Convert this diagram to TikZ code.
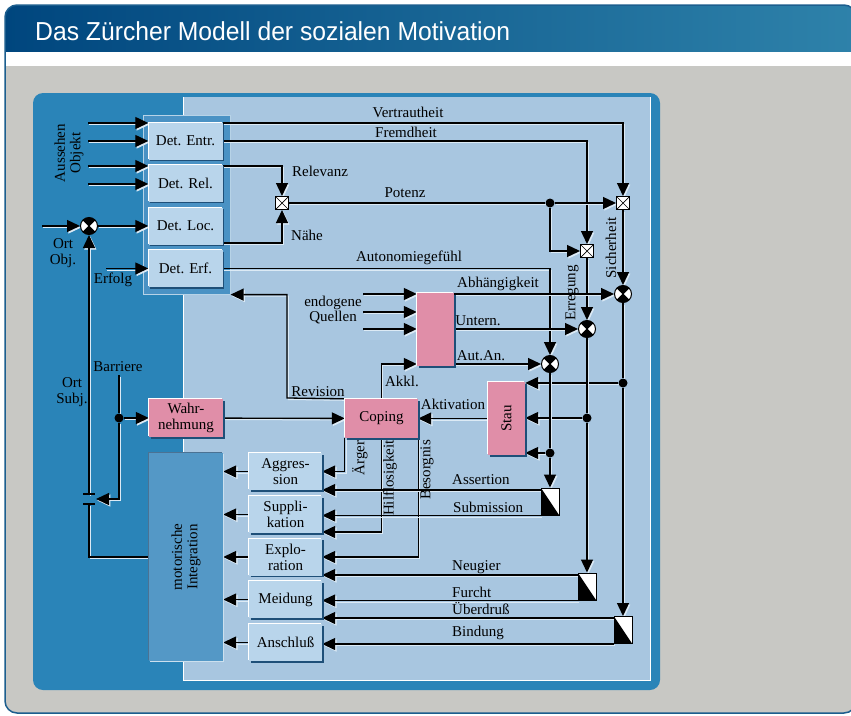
\documentclass[tikz,border=0pt]{standalone}
\usepackage{fontspec}
\setmainfont{Liberation Serif}
\newfontfamily\titlefont{Liberation Sans}
\usetikzlibrary{arrows.meta,shadows,calc}
\definecolor{bggray}{HTML}{C8C8C4}
\definecolor{navyA}{HTML}{00467E}
\definecolor{navyB}{HTML}{2E82AA}
\definecolor{framecol}{HTML}{1C5E8E}
\definecolor{panelblue}{HTML}{2A84B8}
\definecolor{lightpanel}{HTML}{A8C6E0}
\definecolor{medblue}{HTML}{4A92C4}
\definecolor{motblue}{HTML}{5498C6}
\definecolor{boxfill}{HTML}{B9D5EB}
\definecolor{pinkfill}{HTML}{E08EA8}
\definecolor{shadowcol}{HTML}{1E4F78}
\definecolor{lineshadow}{HTML}{DCEAF5}
\pgfdeclarelayer{back}
\pgfdeclarelayer{lines}
\pgfsetlayers{back,lines,main}
\tikzset{
  lab/.style={font=\fontsize{15}{15.5}\selectfont, inner sep=0pt, text=black},
  boxbase/.style={rectangle, inner sep=0pt, font=\fontsize{15}{16}\selectfont, align=center,
     general shadow={shadow xshift=-1pt, shadow yshift=1pt, fill=white},
     general shadow={shadow xshift=1.5pt, shadow yshift=-1.5pt, fill=shadowcol}},
  lbox/.style={boxbase, fill=boxfill, minimum width=74pt, minimum height=37pt},
  pbox/.style={boxbase, fill=pinkfill},
  ln/.style={line width=1.3pt, draw=black, preaction={draw=lineshadow, line width=1pt, transform canvas={shift={(1.3pt,-1.5pt)}}}},
  arr/.style={ln, -{Triangle[length=13pt,width=12pt]}},
  mult/.style={circle, draw=black, line width=1pt, fill=white, minimum size=17pt, inner sep=0pt,
    path picture={
      \fill[black] (path picture bounding box.center) -- (path picture bounding box.north west) -- (path picture bounding box.north east) -- cycle;
      \fill[black] (path picture bounding box.center) -- (path picture bounding box.south west) -- (path picture bounding box.south east) -- cycle;
      \draw[black, line width=0.8pt] (path picture bounding box.north west) -- (path picture bounding box.south east)
        (path picture bounding box.north east) -- (path picture bounding box.south west);}},
  sqx/.style={rectangle, draw=black, line width=1pt, fill=white, minimum size=13pt, inner sep=0pt,
    path picture={\draw[black, line width=0.7pt] (path picture bounding box.north west) -- (path picture bounding box.south east)
        (path picture bounding box.north east) -- (path picture bounding box.south west);}},
  splitbox/.style={rectangle, draw=black, line width=1pt, fill=white, minimum width=18pt, minimum height=27pt, inner sep=0pt,
    path picture={\fill[black] (path picture bounding box.north west) -- (path picture bounding box.south west) -- (path picture bounding box.south east) -- cycle;}},
  dotnode/.style={circle, fill=black, minimum size=9pt, inner sep=0pt},
}
\begin{document}
\begin{tikzpicture}[x=1pt,y=-1pt]
\useasboundingbox (0,0) rectangle (851,715);
\clip (0,0) rectangle (851,715);
\begin{pgfonlayer}{back}
  \fill[white] (0,0) rectangle (851,715);
  \begin{scope}
    \clip[rounded corners=12pt] (5,5) rectangle (856,713);
    \fill[bggray] (5,5) rectangle (856,713);
    \shade[left color=navyA, right color=navyB] (5,5) rectangle (856,52);
    \fill[white] (5,52) rectangle (856,66);
  \end{scope}
  \draw[framecol, line width=1.5pt, rounded corners=12pt] (5,5) rectangle (856,713);
  % panels
  \fill[panelblue, rounded corners=10pt] (33,93) rectangle (660,690);
  \fill[lightpanel] (183,97) rectangle (650,680);
  \draw[white, line width=1pt] (183,97) -- (183,680) -- (650,680) -- (650,97);
  \node[fill=medblue, draw=white!60!medblue, line width=0.6pt, minimum width=87pt, minimum height=179pt, inner sep=0pt, anchor=north west] (detgrp) at (143,115) {};
\end{pgfonlayer}

\node[anchor=west, text=white, inner sep=0pt, font=\titlefont\fontsize{26}{26}\selectfont] (title) at (35,31) {\scalebox{0.95}[1]{Das Zürcher Modell der sozialen Motivation}};

% boxes
\node[lbox] (dentr) at (185.5,141) {Det. Entr.};
\node[lbox] (drel) at (185.5,183) {Det. Rel.};
\node[lbox] (dloc) at (185.5,226) {Det. Loc.};
\node[lbox] (derf) at (185.5,268.5) {Det. Erf.};
\node[pbox, minimum width=74pt, minimum height=38pt] (wahr) at (186,418) {Wahr-\\nehmung};
\node[rectangle, fill=motblue, inner sep=0pt, minimum width=74pt, minimum height=208pt,
  general shadow={shadow xshift=-1pt, shadow yshift=1pt, fill=shadowcol!80},
  general shadow={shadow xshift=1.2pt, shadow yshift=-1.2pt, fill=white!70!motblue}] (motint) at (186,557) {};
\node[lab, rotate=90, align=center] at (motint.center) {motorische\\Integration};
\node[pbox, minimum width=73pt, minimum height=39pt] (coping) at (381.5,418.5) {Coping};
\node[pbox, minimum width=37pt, minimum height=73pt] (quellen) at (435.5,329.5) {};
\node[pbox, minimum width=37pt, minimum height=73pt] (stau) at (506.5,418.5) {};
\node[lab, rotate=90] at (stau.center) {Stau};

\node[lbox, minimum width=73pt] (aggr) at (285.5,471.5) {Aggres-\\sion};
\node[lbox, minimum width=73pt] (supp) at (285.5,514.5) {Suppli-\\kation};
\node[lbox, minimum width=73pt] (expl) at (285.5,557) {Explo-\\ration};
\node[lbox, minimum width=73pt] (meid) at (285.5,599.5) {Meidung};
\node[lbox, minimum width=73pt] (ansch) at (285.5,642.5) {Anschluß};

% operators
\node[sqx] (sqRN) at (282,203) {};
\node[sqx] (sqF) at (587,251) {};
\node[sqx] (sqV) at (623,203) {};
\node[mult] (cA) at (623,294) {};
\node[mult] (cU) at (587,329) {};
\node[mult] (cAut) at (550,364) {};
\node[mult] (mOO) at (89,226) {};
\node[dotnode] (dPot) at (550,203) {};
\node[dotnode] (dS1) at (623,383) {};
\node[dotnode] (dS2) at (587,418) {};
\node[dotnode] (dS3) at (550,453) {};
\node[dotnode] (dBar) at (119,418) {};
\node[splitbox] (spAS) at (550,501.5) {};
\node[splitbox] (spNF) at (587,586.5) {};
\node[splitbox] (spUB) at (623,630) {};

% free ends
\coordinate (inA1) at (88,123);
\coordinate (inA2) at (88,141);
\coordinate (inA3) at (88,166);
\coordinate (inA4) at (88,184);
\coordinate (inOrt) at (42,226);
\coordinate (inErf) at (106,268.5);
\coordinate (barTop) at (119,375);
\coordinate (capTop) at (89,494);
\coordinate (capBot) at (89,504);
\coordinate (capArr) at (96,499);
\coordinate (inQ1) at (363,294);
\coordinate (inQ2) at (363,312);
\coordinate (inQ3) at (363,329);
\coordinate (revC) at (287,398);

\begin{pgfonlayer}{lines}
  % inputs to Det boxes
  \draw[arr] (inA1) -- (dentr.west |- inA1);
  \draw[arr] (inA2) -- (dentr.west |- inA2);
  \draw[arr] (inA3) -- (drel.west |- inA3);
  \draw[arr] (inA4) -- (drel.west |- inA4);
  \draw[arr] (inOrt) -- (mOO);
  \draw[arr] (mOO) -- (dloc);
  \draw[arr] (capTop) -- (mOO);
  \draw[ln] (motint.west) -- (motint.west -| capBot) -- (capBot);
  \draw[line width=1.3pt] (83,494) -- (95,494) (83,504) -- (95,504);
  \draw[arr] (inErf) -- (derf.west |- inErf);
  % Barriere
  \draw[ln] (barTop) -- (dBar);
  \draw[arr] (dBar) -- (dBar |- capArr) -- (capArr);
  \draw[arr] (dBar) -- (wahr);
  % Det outputs
  \draw[arr] (dentr.east |- 0,123) -- (sqV |- 0,123) -- (sqV);
  \draw[arr] (dentr.east) -- (dentr.east -| sqF) -- (sqF);
  \draw[arr] (drel.east |- 0,166) -- (sqRN |- 0,166) -- (sqRN);
  \draw[arr] (dloc.east |- 0,243) -- (sqRN |- 0,243) -- (sqRN);
  \draw[ln] (sqRN) -- (dPot);
  \draw[arr] (dPot) -- (sqV);
  \draw[arr] (dPot) -- (dPot |- sqF) -- (sqF);
  \draw[arr] (derf.east) -- (derf.east -| cAut) -- (cAut);
  \draw[arr] (sqV) -- (cA);
  \draw[arr] (sqF) -- (cU);
  % quellen
  \draw[arr] (inQ1) -- (quellen.west |- inQ1);
  \draw[arr] (inQ2) -- (quellen.west |- inQ2);
  \draw[arr] (inQ3) -- (quellen.west |- inQ3);
  \draw[arr] (quellen.east |- cA) -- (cA);
  \draw[arr] (quellen.east |- cU) -- (cU);
  \draw[arr] (quellen.east |- cAut) -- (cAut);
  \draw[arr] (coping.north) -- (coping.north |- cAut) -- (quellen.west |- cAut);
  \draw[arr] (coping.north west) -- (revC) -- (revC |- detgrp.south east) -- (detgrp.south east);
  \draw[arr] (wahr) -- (coping);
  \draw[arr] (stau) -- (coping);
  % from multipliers down
  \draw[ln] (cA) -- (dS1);
  \draw[arr] (dS1) -- (spUB);
  \draw[arr] (dS1) -- (stau.east |- dS1);
  \draw[ln] (cU) -- (dS2);
  \draw[arr] (dS2) -- (spNF);
  \draw[arr] (dS2) -- (stau.east |- dS2);
  \draw[ln] (cAut) -- (dS3);
  \draw[arr] (dS3) -- (spAS);
  \draw[arr] (dS3) -- (stau.east |- dS3);
  % coping outputs
  \draw[arr] (coping.south west) -- (coping.south west |- aggr) -- (aggr.east);
  \draw[arr] (coping.south) -- (coping.south |- 0,532) -- (supp.east |- 0,532);
  \draw[arr] (coping.south east) -- (coping.south east |- expl) -- (expl.east);
  % split outputs
  \draw[arr] (spAS.west |- 0,490) -- (aggr.east |- 0,490);
  \draw[arr] (spAS.south west) -- (supp.east |- spAS.south west);
  \draw[arr] (spNF.west |- 0,575) -- (expl.east |- 0,575);
  \draw[arr] (spNF.south west) -- (meid.east |- spNF.south west);
  \draw[arr] (spUB.west |- 0,618) -- (meid.east |- 0,618);
  \draw[arr] (spUB.south west) -- (ansch.east |- spUB.south west);
  % to motor integration
  \draw[arr] (aggr) -- (aggr -| motint.east);
  \draw[arr] (supp) -- (supp -| motint.east);
  \draw[arr] (expl) -- (expl -| motint.east);
  \draw[arr] (meid) -- (meid -| motint.east);
  \draw[arr] (ansch) -- (ansch -| motint.east);
\end{pgfonlayer}

% labels
\node[lab] at (408,112) {Vertrautheit};
\node[lab] at (406,132) {Fremdheit};
\node[lab] at (320,171) {Relevanz};
\node[lab] at (405,193) {Potenz};
\node[lab] at (307,235) {Nähe};
\node[lab] at (409,258) {Autonomiegefühl};
\node[lab] at (498,284) {Abhängigkeit};
\node[lab] at (478,321) {Untern.};
\node[lab] at (481,356) {Aut.An.};
\node[lab, align=center] at (333,310) {endogene\\Quellen};
\node[lab] at (318,392) {Revision};
\node[lab] at (402,381) {Akkl.};
\node[lab] at (453,404) {Aktivation};
\node[lab, rotate=90] at (611,248) {Sicherheit};
\node[lab, rotate=90] at (572,293) {Erregung};
\node[lab, align=center] at (63,253) {Ort\\Obj.};
\node[lab] at (113,280) {Erfolg};
\node[lab, rotate=90, align=center] at (69,153) {Aussehen\\Objekt};
\node[lab] at (118,367) {Barriere};
\node[lab, align=center] at (72,392) {Ort\\Subj.};
\node[lab, rotate=90] at (360,458) {Ärger};
\node[lab, rotate=90] at (390,478) {Hilflosigkeit};
\node[lab, rotate=90] at (427,470) {Besorgnis};
\node[lab, anchor=west] at (452,480) {Assertion};
\node[lab, anchor=west] at (453,507) {Submission};
\node[lab, anchor=west] at (452,567) {Neugier};
\node[lab, anchor=west] at (452,592) {Furcht};
\node[lab, anchor=west] at (452,608) {Überdruß};
\node[lab, anchor=west] at (452,633) {Bindung};
\end{tikzpicture}
\end{document}
